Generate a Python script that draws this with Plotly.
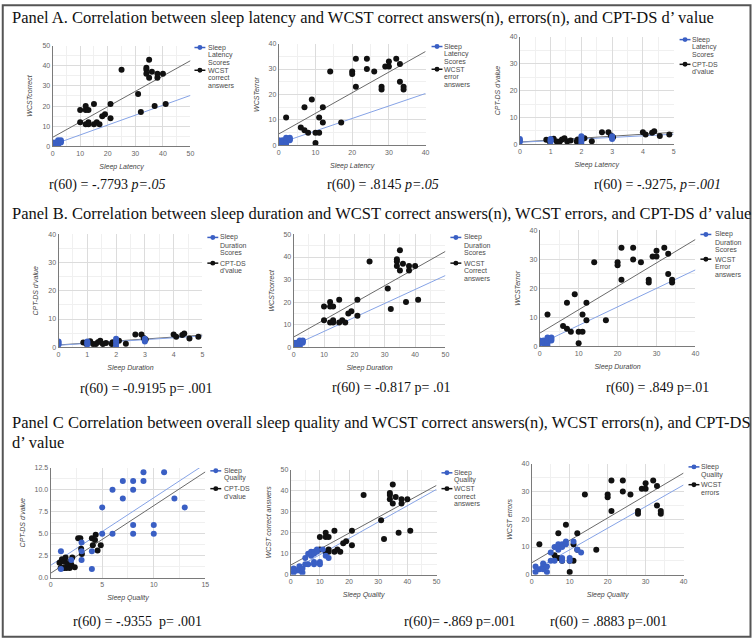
import plotly.graph_objects as go

W, H = 756, 641

# ---- data ----
# blue "sleep score" cluster used in panels A and B
score_x = [0, 0, 0, 1, 1, 1, 2, 2, 2, 2, 3, 3, 3]
score_y = [1, 2, 1.5, 1, 2, 1.5, 0, 1, 2, 3, 2, 3, 2.5]

# sleep quality scores (panel C, blue)
quality_x = [1, 1, 2, 3, 3, 3, 4, 4, 5, 5, 6, 6, 7, 7, 8, 8, 8, 8, 9, 9, 10, 10, 11, 12, 13]
quality_y = [3, 1, 2, 3, 4, 2, 1, 3, 8, 5, 10, 5, 11, 9, 11, 10, 6, 5, 12, 11, 6, 5, 12, 9, 8]

# WCST correct answers (black)
correct_x = [10, 10, 12, 12, 13, 12, 13, 13, 15, 15, 16, 17, 18, 19, 21, 21, 25, 31, 32,
             34, 34, 34, 35, 35, 36, 38, 38, 37, 40, 41]
correct_y = [18, 12, 20, 18, 18, 11, 12, 11, 21, 11, 12, 11, 15, 16, 21, 14, 38, 26, 17,
             39, 38, 36, 43, 34, 37, 36, 34, 20, 36, 21]

# WCST errors (black)
error_x = [2, 6, 7, 7, 8, 9, 10, 10, 11, 11, 12, 12, 14, 17, 20, 20, 21, 21, 24, 24, 26,
           28, 28, 29, 30, 30, 32, 33, 33, 34, 34]
error_y = [11, 7, 6, 15, 5, 18, 5, 1, 11, 5, 15, 9, 29, 9, 29, 28, 34, 23, 34, 30, 29,
           23, 22, 31, 31, 33, 34, 32, 25, 23, 22]

# CPT-DS d'value (black)
cpt_x = [0.86, 0.97, 1.02, 1.1, 1.2, 1.3, 1.37, 1.45, 1.54, 1.65, 1.85, 1.88, 2.0, 2.1,
         2.34, 2.67, 2.88, 2.96, 3.03, 4.0, 4.09, 4.3, 4.37, 4.55, 4.86]
cpt_y = [1.7, 1.1, 1.8, 2.1, 1.1, 1.1, 1.8, 2.3, 1.1, 1.5, 1.1, 1.8, 1.5, 2.3,
         1.2, 4.5, 4.5, 3.3, 2.7, 4.5, 3.7, 4.3, 4.9, 3.1, 3.7]

# linear trendlines (intercept, slope) as drawn in each chart
trend_black = {"A1": (4.5, 0.76), "A2": (4.5, 0.81), "A3": (0.9, 0.72),
               "B1": (0.8, 0.70), "B2": (4.5, 0.76), "B3": (4.5, 0.81),
               "C1": (0.5, 0.77), "C2": (4.6, 0.76), "C3": (4.3, 0.81)}
trend_blue = {"A1": (0.8, 0.49), "A2": (0.8, 0.49), "A3": (0.8, 0.60),
              "B1": (0.7, 0.66), "B2": (0.8, 0.62), "B3": (0.8, 0.64),
              "C1": (1.4, 0.77), "C2": (1.7, 0.78), "C3": (1.2, 0.78)}

BLUE = "#3a5fc4"
BLUE_LINE = "#86a3e6"
BLACK = "#111111"
BLACK_LINE = "#6a6a6a"
SERIF = "Liberation Serif, Times New Roman, serif"
SANS = "Liberation Sans, Arial, sans-serif"

# box = plot area in px (left, right, top, bottom); leg = (symbol x, item1 y, item2 y, text x)
charts = [
    dict(key="A1", blue=(score_x, score_y), black=(correct_x, correct_y),
         xmax=50, xstep=10, ymax=50, ystep=10, xtitle="Sleep Latency", ytitle="WCSTcorrect",
         names=(["Sleep", "Latency", "Scores"], ["WCST", "correct", "answers"]),
         box=(51, 190, 42, 144), leg=(194, 44, 67, 207),
         caption="r(60) = -.7793 <i>p=.05</i>", cap=(106, 183)),
    dict(key="A2", blue=(score_x, score_y), black=(error_x, error_y),
         xmax=40, xstep=10, ymax=40, ystep=10, xtitle="Sleep Latency", ytitle="WCSTerror",
         names=(["Sleep", "Latency", "Scores"], ["WCST", "error", "answers"]),
         box=(279, 427, 40, 143), leg=(433, 43, 66, 445),
         caption="r(60) = .8145 <i>p=.05</i>", cap=(384, 183)),
    dict(key="A3", blue=(score_x, score_y), black=(cpt_x, cpt_y),
         xmax=5, xstep=1, ymax=40, ystep=10, xtitle="Sleep Latency", ytitle="CPT-DS d'value",
         names=(["Sleep", "Latency", "Scores"], ["CPT-DS", "d'value"]),
         box=(522, 677, 33, 142), leg=(683, 36, 61, 695),
         caption="r(60) = -.9275, <i>p=.001</i>", cap=(661, 183)),
    dict(key="B1", blue=(score_x, score_y), black=(cpt_x, cpt_y),
         xmax=5, xstep=1, ymax=40, ystep=10, xtitle="Sleep Duration", ytitle="CPT-DS d'value",
         names=(["Sleep", "Duration", "Scores"], ["CPT-DS", "d'value"]),
         box=(57, 202, 233, 347), leg=(207, 236, 262, 219),
         caption="r(60) = -0.9195 p= .001", cap=(145, 389)),
    dict(key="B2", blue=(score_x, score_y), black=(correct_x, correct_y),
         xmax=50, xstep=10, ymax=50, ystep=10, xtitle="Sleep Duration", ytitle="WCSTcorrect",
         names=(["Sleep", "Duration", "Scores"], ["WCST", "Correct", "answers"]),
         box=(294, 447, 233, 347), leg=(452, 236, 262, 465),
         caption="r(60) = -0.817 p= .01", cap=(392, 388)),
    dict(key="B3", blue=(score_x, score_y), black=(error_x, error_y),
         xmax=40, xstep=10, ymax=40, ystep=10, xtitle="Sleep Duration", ytitle="WCSTerror",
         names=(["Sleep", "Duration", "Scores"], ["WCST", "Error", "answers"]),
         box=(542, 699, 229, 346), leg=(704, 233, 258, 718),
         caption="r(60) = .849 p=.01", cap=(661, 388)),
    dict(key="C1", blue=(quality_x, quality_y), black=(cpt_x, cpt_y),
         xmax=15, xstep=5, ymax=12.5, ystep=2.5, xtitle="Sleep Quality", ytitle="CPT-DS d'value",
         names=(["Sleep", "Quality"], ["CPT-DS", "d'value"]),
         box=(49, 205, 469, 580), leg=(210, 472, 490, 223),
         caption="r(60) = -.9355 &nbsp;p= .001", cap=(137, 625)),
    dict(key="C2", blue=(quality_x, quality_y), black=(correct_x, correct_y),
         xmax=50, xstep=10, ymax=50, ystep=10, xtitle="Sleep Quality", ytitle="WCST correct answers",
         names=(["Sleep", "Quality"], ["WCST", "correct", "answers"]),
         box=(291, 438, 471, 577), leg=(443, 474, 490, 455),
         caption="r(60)= -.869 p=.001", cap=(461, 625)),
    dict(key="C3", blue=(quality_x, quality_y), black=(error_x, error_y),
         xmax=40, xstep=10, ymax=40, ystep=10, xtitle="Sleep Quality", ytitle="WCST errors",
         names=(["Sleep", "Quality"], ["WCST", "errors"]),
         box=(534, 687, 465, 577), leg=(692, 468, 486, 704),
         caption="r(60) = .8883 p=.001", cap=(611, 625)),
]


def px(x):
    return x / W


def py(y):
    return 1 - y / H


fig = go.Figure()
annotations = []
shapes = []
layout = {}

for i, c in enumerate(charts):
    n = "" if i == 0 else str(i + 1)
    xa, ya = "x" + n, "y" + n
    x0, x1, y0, y1 = c["box"]
    xmax, ymax = c["xmax"], c["ymax"]

    # trendlines
    for (b, m), col in ((trend_black[c["key"]], BLACK_LINE), (trend_blue[c["key"]], BLUE_LINE)):
        fig.add_trace(go.Scatter(x=[0, xmax], y=[b, b + m * xmax], mode="lines",
                                 xaxis=xa, yaxis=ya, line=dict(color=col, width=1),
                                 showlegend=False, hoverinfo="skip"))

    # scatter points
    bx, by = c["black"]
    qx, qy = c["blue"]
    fig.add_trace(go.Scatter(x=bx, y=by, mode="markers", xaxis=xa, yaxis=ya,
                             marker=dict(color=BLACK, size=6), showlegend=False))
    fig.add_trace(go.Scatter(x=qx, y=qy, mode="markers", xaxis=xa, yaxis=ya,
                             marker=dict(color=BLUE, size=6), showlegend=False))

    tickfont = dict(family=SANS, size=7, color="#666")
    titlefont = dict(family=SANS, size=7, color="#444", style="italic")
    layout["xaxis" + n] = dict(
        domain=[px(x0), px(x1)], anchor=ya, range=[0, xmax], dtick=c["xstep"], tick0=0,
        showgrid=True, gridcolor="#dcdcdc", gridwidth=1, zeroline=False,
        showline=True, linecolor="#7a7a7a", linewidth=1, ticks="", tickfont=tickfont,
        minor=dict(dtick=c["xstep"] / 2, showgrid=True, gridcolor="#f0f0f0"),
        title=dict(text=c["xtitle"], font=titlefont, standoff=8),
    )
    layout["yaxis" + n] = dict(
        domain=[py(y1), py(y0)], anchor=xa, range=[0, ymax], dtick=c["ystep"], tick0=0,
        showgrid=True, gridcolor="#dcdcdc", gridwidth=1, zeroline=False,
        showline=True, linecolor="#7a7a7a", linewidth=1, ticks="", tickfont=tickfont,
        tickformat=".1f" if c["ystep"] < 5 else "d",
        minor=dict(dtick=c["ystep"] / 2, showgrid=True, gridcolor="#f0f0f0"),
        title=dict(text=c["ytitle"], font=titlefont, standoff=8),
    )

    # hand-drawn legend (short line + dot, wrapped label one line at a time)
    lx, ly1, ly2, tx = c["leg"]
    for lines, col, ly in ((c["names"][0], BLUE, ly1), (c["names"][1], BLACK, ly2)):
        shapes.append(dict(type="line", xref="paper", yref="paper",
                           x0=px(lx), x1=px(lx + 11), y0=py(ly), y1=py(ly),
                           line=dict(color=col, width=1.5)))
        shapes.append(dict(type="circle", xref="paper", yref="paper",
                           x0=px(lx + 3), x1=px(lx + 8), y0=py(ly + 2.5), y1=py(ly - 2.5),
                           fillcolor=col, line=dict(width=0)))
        for k, word in enumerate(lines):
            annotations.append(dict(
                text=word, x=px(tx), y=py(ly + k * 7.7), xref="paper", yref="paper",
                xanchor="left", yanchor="middle", align="left", showarrow=False, borderpad=0,
                font=dict(family=SANS, size=7, color="#4a4a4a"),
            ))

    annotations.append(dict(
        text=c["caption"], x=px(c["cap"][0]), y=py(c["cap"][1]), xref="paper", yref="paper",
        xanchor="center", yanchor="middle", showarrow=False,
        font=dict(family=SERIF, size=14, color="#111"),
    ))

panel_titles = [
    ("Panel A. Correlation between sleep latency and WCST correct answers(n), errors(n), and CPT-DS d\u2019 value", 14),
    ("Panel B. Correlation between sleep duration and WCST correct answers(n), WCST errors, and CPT-DS d\u2019 value", 212),
    ("Panel C Correlation between overall sleep quality and WCST correct answers(n), WCST errors(n), and CPT-DS", 423),
    ("d\u2019 value", 443),
]
for text, ypx in panel_titles:
    annotations.append(dict(
        text=text, x=px(8), y=py(ypx), xref="paper", yref="paper",
        xanchor="left", yanchor="middle", showarrow=False,
        font=dict(family=SERIF, size=16.5, color="#111"),
    ))

shapes.append(dict(type="rect", xref="paper", yref="paper", x0=0.001, y0=0.002, x1=0.998, y1=0.998,
                   line=dict(color="#555", width=2)))

fig.update_layout(
    width=W, height=H, margin=dict(l=0, r=0, t=0, b=0),
    paper_bgcolor="white", plot_bgcolor="white",
    annotations=annotations, shapes=shapes,
    showlegend=False, hovermode="closest",
    **layout,
)

fig.write_html("out.html", config={"displayModeBar": False},
               post_script="document.body.style.margin='0';document.body.style.overflow='hidden';")
